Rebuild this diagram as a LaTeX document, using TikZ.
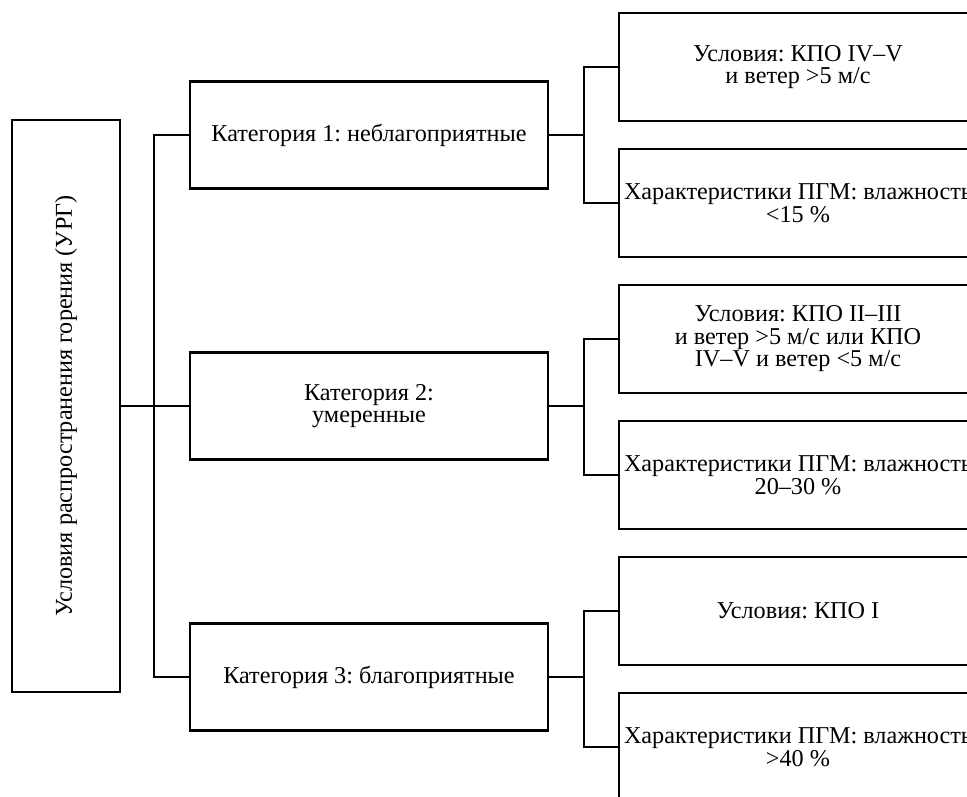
\documentclass[tikz,border=0pt]{standalone}
\usepackage{fontspec}
\setmainfont{Liberation Serif}
\frenchspacing
\begin{document}
\begin{tikzpicture}[x=1pt,y=-1pt,
  box/.style={draw, line width=2.4pt, minimum width=358pt, minimum height=107pt, inner sep=0pt},
  txt/.style={font=\fontsize{24.2}{22.5}\selectfont, align=center, inner sep=0pt},
  conn/.style={line width=2.4pt}]
\useasboundingbox (0,0) rectangle (967,796);
% root
\node[box, minimum width=108pt, minimum height=572pt] (root) at (66,406) {};
\node[txt, rotate=90] (roott) at (root) {Условия распространения горения (УРГ)};
% categories
\node[box] (c1) at (369,135) {};
\node[txt] (c1t) at (c1) {Категория 1: неблагоприятные};
\node[box] (c2) at (369,406) {};
\node[txt] (c2t) at (c2) {Категория 2:\\умеренные};
\node[box] (c3) at (369,677) {};
\node[txt] (c3t) at (c3) {Категория 3: благоприятные};
% sub boxes
\node[box, minimum height=108pt] (a1) at (798,67) {};
\node[txt] (a1t) at (a1) {Условия: КПО IV–V\\и ветер >5 м/с};
\node[box, minimum height=108pt] (b1) at (798,203) {};
\node[txt] (b1t) at (b1) {Характеристики ПГМ: влажность\\<15 \%};
\node[box, minimum height=108pt] (a2) at (798,339) {};
\node[txt] (a2t) at (a2) {Условия: КПО II–III\\и ветер >5 м/с или КПО\\IV–V и ветер <5 м/с};
\node[box, minimum height=108pt] (b2) at (798,475) {};
\node[txt] (b2t) at (b2) {Характеристики ПГМ: влажность\\20–30 \%};
\node[box, minimum height=108pt] (a3) at (798,611) {};
\node[txt] (a3t) at (a3) {Условия: КПО I};
\node[box, minimum height=108pt] (b3) at (798,747) {};
\node[txt] (b3t) at (b3) {Характеристики ПГМ: влажность\\>40 \%};
% connectors
\draw[conn] (root.east) -- (c2.west);
\draw[conn] (c1.west) -- ++(-35,0) |- (c3.west);
\draw[conn] (c1.east) -- ++(35,0) coordinate (j1);
\draw[conn] (a1.west) -| (j1) |- (b1.west);
\draw[conn] (c2.east) -- ++(35,0) coordinate (j2);
\draw[conn] (a2.west) -| (j2) |- (b2.west);
\draw[conn] (c3.east) -- ++(35,0) coordinate (j3);
\draw[conn] (a3.west) -| (j3) |- (b3.west);
\end{tikzpicture}
\end{document}
